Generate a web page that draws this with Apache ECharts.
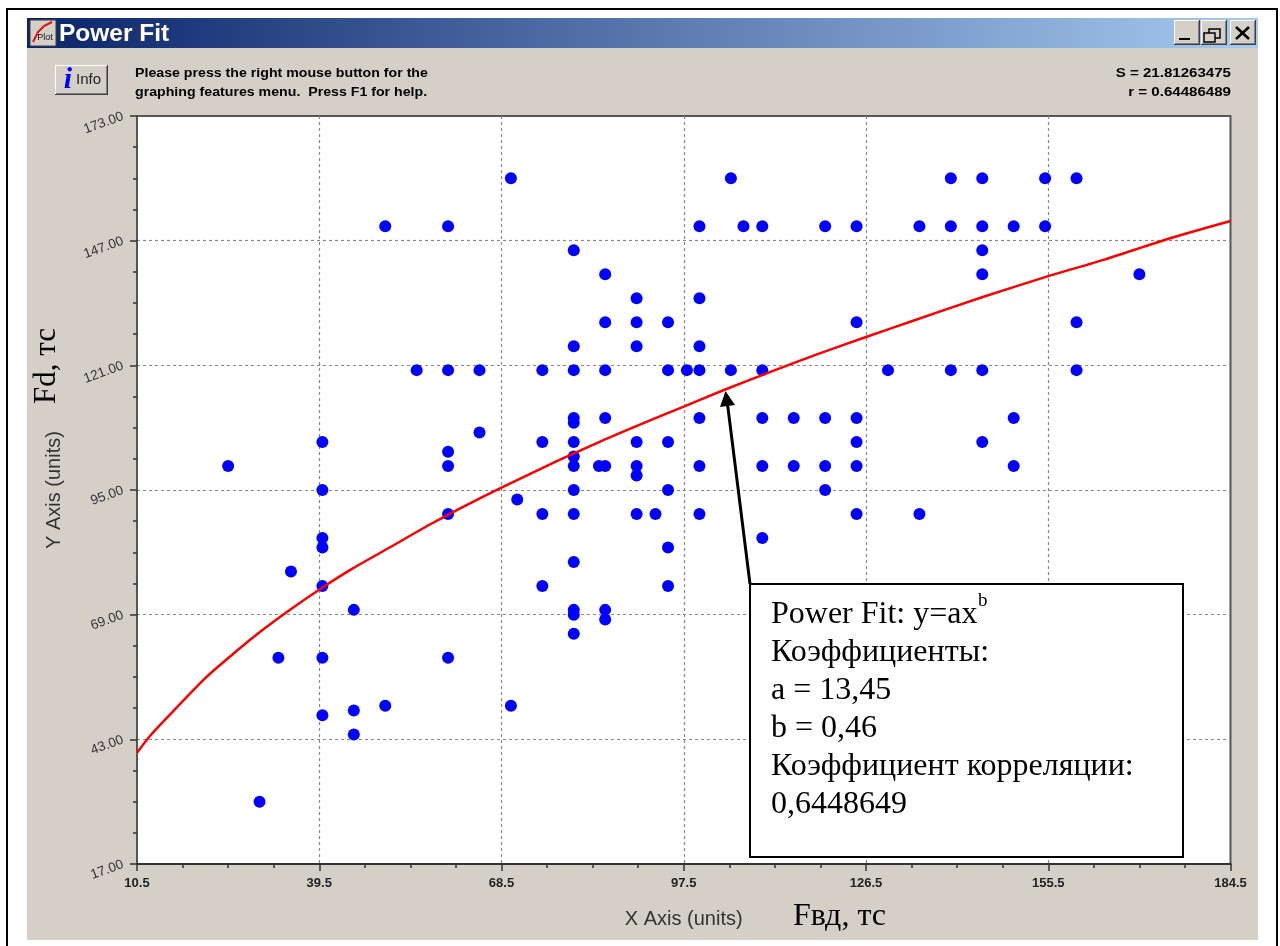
<!DOCTYPE html>
<html>
<head>
<meta charset="utf-8">
<style>html,body{margin:0;padding:0;background:#fff}#c{width:1280px;height:946px}</style>
<script src="https://cdn.jsdelivr.net/npm/echarts@6/dist/echarts.min.js"></script>
</head>
<body>
<div id="c"></div>
<script>
const xTicks = [10.5, 39.5, 68.5, 97.5, 126.5, 155.5, 184.5];
const yTicks = [17, 43, 69, 95, 121, 147, 173];
const xMinorTicks = [17.75,25,32.25,46.75,54,61.25,75.75,83,90.25,104.75,112,119.25,133.75,141,148.25,162.75,170,177.25];
const yMinorTicks = [23.5,30,36.5,49.5,56,62.5,75.5,82,88.5,101.5,108,114.5,127.5,134,140.5,153.5,160,166.5];

const pointX = [
 70,105,140,145,155,160,
 50,60,100,107,110,120,125,135,140,145,150,155,
 80,145,
 85,145,170,
 90,100,
 85,90,95,125,160,
 80,90,100,
 55,60,65,75,80,85,95,98,100,105,110,130,140,145,160,
 80,85,100,110,115,120,125,150,
 80,
 65,
 40,75,80,90,95,125,145,
 60,
 80,
 25,60,80,84,85,90,100,110,115,120,125,150,
 90,
 40,80,95,120,
 71,
 60,75,80,90,93,100,125,135,
 40,110,
 40,95,
 80,
 35,
 40,75,95,
 45,80,85,
 80,
 85,
 80,
 33,40,60,
 50,70,
 45,
 40,
 45,
 30
];
const pointY = [
 160,160,160,160,160,160,
 150,150,150,150,150,150,150,150,150,150,150,150,
 145,145,
 140,140,140,
 135,135,
 130,130,130,130,130,
 125,125,125,
 120,120,120,120,120,120,120,120,120,120,120,120,120,120,120,
 110,110,110,110,110,110,110,110,
 109,
 107,
 105,105,105,105,105,105,105,
 103,
 102,
 100,100,100,100,100,100,100,100,100,100,100,100,
 98,
 95,95,95,95,
 93,
 90,90,90,90,90,90,90,90,
 85,85,
 83,83,
 80,
 78,
 75,75,75,
 70,70,70,
 69,
 68,
 65,
 60,60,60,
 50,50,
 49,
 48,
 44,
 30
];
const fitX = [10.5,12.5,15.7,21.4,24.7,29.2,34.3,39.6,44.9,50.7,57.1,62.4,68.5,77.3,84.9,91,97.7,103.8,111.2,118.7,126.5,134,145.2,155.5,164.3,174.9,184.5];
const fitY = [40.2,43.6,48.1,55.8,59.6,64.5,69.5,74.3,78.7,83,87.8,91.5,95.5,101,105.5,108.9,112.5,115.8,119.6,123.3,126.9,130.3,135.3,139.6,143,147.5,151.1];

const boxLines = ["Power Fit: y=ax", "Коэффициенты:", "a = 13,45", "b = 0,46", "Коэффициент корреляции:", "0,6448649"];
const noteLines = ["Please press the right mouse button for the", "graphing features menu.  Press F1 for help."];
const statLines = ["S = 21.81263475", "r = 0.64486489"];

const GRAY = '#d4d0c8', SANS = '"Liberation Sans", Arial, sans-serif', SERIF = '"Liberation Serif", "Times New Roman", serif';

function rect(x, y, w, h, style, z) { return { type:'rect', shape:{x,y,width:w,height:h}, style, z: z===undefined?-10:z, silent:true }; }
function text(x, y, t, s, z, sx) { return { type:'text', x, y, scaleX:sx||1, style:Object.assign({text:t, fill:'#000', verticalAlign:'middle'}, s), z: z===undefined?-5:z, silent:true }; }
function button(x, y, w, h, z) {
  return [
    rect(x, y, w, h, {fill:'#404040'}, z),
    rect(x, y, w-1, h-1, {fill:'#fff'}, z),
    rect(x+1, y+1, w-2, h-2, {fill:'#808080'}, z),
    rect(x+1, y+1, w-3, h-3, {fill:GRAY}, z)
  ];
}

const graphics = [
  rect(7, 8, 1270, 2, {fill:'#000'}),
  rect(6, 8, 2, 938, {fill:'#000'}),
  rect(1276, 8, 2, 938, {fill:'#000'}),
  rect(27, 18, 1231, 922, {fill:GRAY}),
  rect(27, 18, 1231, 30, {fill:{type:'linear',x:0,y:0,x2:1,y2:0,colorStops:[{offset:0,color:'#0a246a'},{offset:1,color:'#a6caf0'}]}}),
  // title-bar icon
  rect(30, 20, 26, 26, {fill:'#d4d0c8', stroke:'#404040', lineWidth:1}),
  { type:'polyline', shape:{points:[[33,42],[38,32],[44,26],[52,22]]}, style:{stroke:'#e01010', fill:null, lineWidth:2}, z:-5, silent:true },
  text(45, 38, 'Plot', {font:'9px '+SANS, fill:'#111', align:'center'}),
  text(59, 34, 'Power Fit', {font:'bold 24.5px '+SANS, fill:'#fff'}),
  ...button(1174, 20, 26, 25, -6),
  ...button(1201, 20, 26, 25, -6),
  ...button(1230, 20, 26, 25, -6),
  rect(1179, 38, 11, 2, {fill:'#000'}, -5),
  { type:'rect', shape:{x:1209,y:29,width:11,height:9}, style:{fill:GRAY, stroke:'#000', lineWidth:1.5}, z:-5, silent:true },
  { type:'rect', shape:{x:1204,y:33,width:11,height:9}, style:{fill:GRAY, stroke:'#000', lineWidth:1.5}, z:-4, silent:true },
  { type:'line', shape:{x1:1236,y1:27,x2:1249,y2:39}, style:{stroke:'#000', lineWidth:2.5}, z:-5, silent:true },
  { type:'line', shape:{x1:1249,y1:27,x2:1236,y2:39}, style:{stroke:'#000', lineWidth:2.5}, z:-5, silent:true },
  ...button(55, 65, 53, 30, -6),
  text(68, 80, 'i', {font:'bold italic 30px '+SERIF, fill:'#0000ff', align:'center'}),
  text(76, 80, 'Info', {font:'15px '+SANS, fill:'#222'}),
  text(135, 73, noteLines[0], {font:'bold 13px '+SANS}, -5, 1.09),
  text(135, 92, noteLines[1], {font:'bold 13px '+SANS}, -5, 1.09),
  text(1231, 73, statLines[0], {font:'bold 13px '+SANS, align:'right'}, -5, 1.16),
  text(1231, 92, statLines[1], {font:'bold 13px '+SANS, align:'right'}, -5, 1.16),
  { type:'text', x:47, y:366, rotation:Math.PI/2, style:{text:'Fd, тс', font:'31px '+SERIF, fill:'#000', align:'center', verticalAlign:'middle'}, z:-5, silent:true },
  text(793, 917, 'Fвд, тс', {font:'32px '+SERIF}),
  // annotation
  { type:'line', shape:{x1:750,y1:584,x2:727,y2:400}, style:{stroke:'#000', lineWidth:3}, z:50, silent:true },
  { type:'polygon', shape:{points:[[725.5,391],[720,407],[735,405]]}, style:{fill:'#000'}, z:50, silent:true },
  { type:'rect', shape:{x:750,y:584,width:433,height:273}, style:{fill:'#fff', stroke:'#000', lineWidth:2}, z:51, silent:true },
  ...boxLines.map((t, i) => text(771, 615 + i*38, t, {font:'32px '+SERIF}, 52)),
  text(978, 601, 'b', {font:'19px '+SERIF}, 52)
];

const chart = echarts.init(document.getElementById('c'), null, {renderer:'canvas'});
const axisBase = { type:'value', splitArea:{show:false} };
const gridDash = { show:true, showMinLine:false, showMaxLine:false, lineStyle:{color:'#888', type:[3,3], width:1.2} };
chart.setOption({
  animation:false,
  backgroundColor:'#fff',
  grid:{ left:137, right:49.5, top:116, bottom:82, show:true, backgroundColor:'#fff', borderColor:'#555', borderWidth:2, z:-1 },
  graphic:{ elements:graphics },
  xAxis:[
    Object.assign({}, axisBase, {
      min:xTicks[0], max:xTicks[xTicks.length-1], position:'bottom',
      name:'X Axis (units)', nameLocation:'middle', nameGap:45,
      nameTextStyle:{fontFamily:'Liberation Sans', fontSize:20, color:'#333'},
      axisLine:{show:true, onZero:false, lineStyle:{color:'#333', width:2}},
      axisTick:{show:true, length:7, customValues:xTicks, lineStyle:{color:'#333', width:1.5}},
      axisLabel:{show:true, customValues:xTicks, margin:13, fontFamily:'Liberation Sans', fontWeight:'bold', fontSize:13, color:'#222', formatter:v=>v.toFixed(1)},
      splitLine:gridDash
    }),
    Object.assign({}, axisBase, {
      min:xTicks[0], max:xTicks[xTicks.length-1], position:'bottom',
      axisLine:{show:false, onZero:false},
      axisTick:{show:true, length:4, customValues:xMinorTicks, lineStyle:{color:'#333', width:1.5}},
      axisLabel:{show:false}, splitLine:{show:false}
    })
  ],
  yAxis:[
    Object.assign({}, axisBase, {
      min:yTicks[0], max:yTicks[yTicks.length-1], position:'left',
      name:'Y Axis (units)', nameLocation:'middle', nameGap:73,
      nameTextStyle:{fontFamily:'Liberation Sans', fontSize:20, color:'#333'},
      axisLine:{show:true, onZero:false, lineStyle:{color:'#555', width:2}},
      axisTick:{show:true, length:7, customValues:yTicks, lineStyle:{color:'#333', width:1.5}},
      axisLabel:{show:true, customValues:yTicks, rotate:20, margin:14, padding:[4,0,0,0], fontFamily:'Liberation Sans', fontSize:13.5, color:'#333', formatter:v=>v.toFixed(2)},
      splitLine:gridDash
    }),
    Object.assign({}, axisBase, {
      min:yTicks[0], max:yTicks[yTicks.length-1], position:'left',
      axisLine:{show:false, onZero:false},
      axisTick:{show:true, length:4, customValues:yMinorTicks, lineStyle:{color:'#333', width:1.5}},
      axisLabel:{show:false}, splitLine:{show:false}
    })
  ],
  series:[
    { name:'Data', type:'scatter', symbol:'circle', symbolSize:12, z:3,
      itemStyle:{color:'#0000ff', opacity:1},
      data:pointX.map((x,i)=>[x,pointY[i]]) },
    { name:'Power Fit', type:'line', smooth:0.25, showSymbol:false, symbol:'none', z:4,
      lineStyle:{color:'#ff0000', width:2.5},
      data:fitX.map((x,i)=>[x,fitY[i]]) }
  ]
});
</script>
</body>
</html>
